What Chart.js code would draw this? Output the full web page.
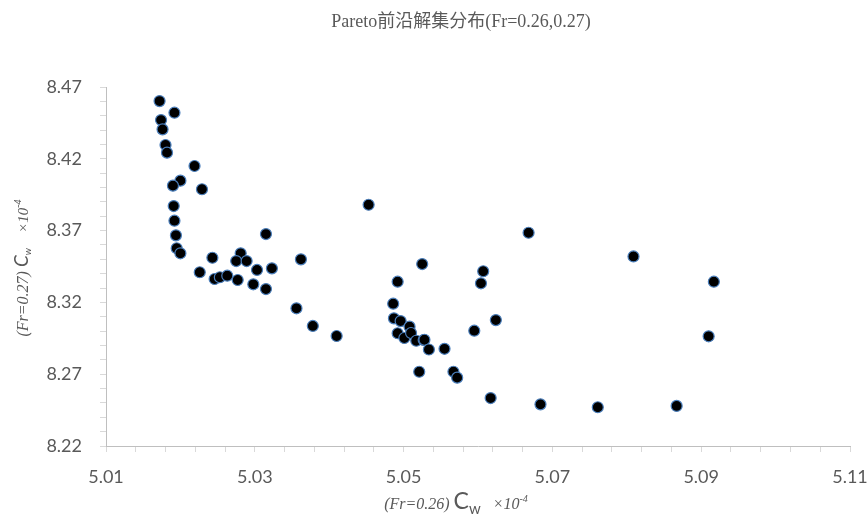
<!DOCTYPE html>
<html>
<head>
<meta charset="utf-8">
<script src="https://cdn.jsdelivr.net/npm/chart.js@4.4.0/dist/chart.umd.min.js"></script>
<style>
  html, body { margin: 0; padding: 0; background: #fff; }
  #wrap { width: 867px; height: 515px; }
</style>
</head>
<body>
<div id="wrap"><canvas id="paretoChart" width="867" height="515"></canvas></div>
<script>
const chartTitle = "Pareto前沿解集分布(Fr=0.26,0.27)";

// Cw (Fr=0.26), x10^-4
const xValues = [
  5.0172, 5.0192, 5.0174, 5.0176, 5.0180, 5.0182, 5.0219, 5.0200, 5.0190, 5.0229,
  5.0191, 5.0192, 5.0194, 5.0195, 5.0200, 5.0315, 5.0243, 5.0281, 5.0275, 5.0289,
  5.0303, 5.0323, 5.0362, 5.0226, 5.0246, 5.0253, 5.0263, 5.0277, 5.0298, 5.0315,
  5.0356, 5.0378, 5.0410, 5.0453, 5.0525, 5.0492, 5.0486, 5.0487, 5.0496, 5.0508,
  5.0492, 5.0501, 5.0510, 5.0517, 5.0527, 5.0528, 5.0534, 5.0555, 5.0521, 5.0567,
  5.0572, 5.0595, 5.0607, 5.0604, 5.0624, 5.0617, 5.0684, 5.0761, 5.0867, 5.0668,
  5.0809, 5.0917, 5.0910
];
// Cw (Fr=0.27), x10^-4
const yValues = [
  8.4602, 8.4521, 8.4470, 8.4405, 8.4296, 8.4243, 8.4150, 8.4048, 8.4013, 8.3988,
  8.3871, 8.3769, 8.3667, 8.3577, 8.3542, 8.3676, 8.3511, 8.3542, 8.3488, 8.3488,
  8.3426, 8.3437, 8.3500, 8.3410, 8.3363, 8.3375, 8.3386, 8.3356, 8.3326, 8.3293,
  8.3159, 8.3036, 8.2966, 8.3880, 8.3467, 8.3344, 8.3191, 8.3089, 8.3070, 8.3031,
  8.2985, 8.2952, 8.2987, 8.2933, 8.2938, 8.2940, 8.2872, 8.2877, 8.2717, 8.2717,
  8.2676, 8.3003, 8.3417, 8.3333, 8.3077, 8.2534, 8.2490, 8.2470, 8.2479, 8.3685,
  8.3520, 8.3344, 8.2964
];

const xTicks = ["5.01", "5.03", "5.05", "5.07", "5.09", "5.11"];
const yTicks = ["8.22", "8.27", "8.32", "8.37", "8.42", "8.47"];

var points = [];
for (var i = 0; i < xValues.length; i++) {
  points.push({ x: xValues[i], y: yValues[i] });
}

// axis titles need sub/superscripts, so draw them piece by piece
const xTitleParts = [
  { text: "(Fr=0.26) ", font: "italic 16px 'Liberation Serif', serif", dy: 0 },
  { text: "C", font: "23px 'Lato', sans-serif", dy: 0 },
  { text: "w", font: "15px 'Lato', sans-serif", dy: 5 },
  { text: "   ×10", font: "italic 16px 'Liberation Serif', serif", dy: 0 },
  { text: "-4", font: "italic 10px 'Liberation Serif', serif", dy: -7 }
];
const yTitleParts = [
  { text: "(Fr=0.27) ", font: "italic 16px 'Liberation Serif', serif", dy: 0 },
  { text: "C", font: "italic 19px 'Lato', sans-serif", dy: 0 },
  { text: "w", font: "italic 10px 'Lato', sans-serif", dy: 3 },
  { text: "    ×10", font: "italic 15px 'Liberation Serif', serif", dy: 0 },
  { text: "-4", font: "italic 10px 'Liberation Serif', serif", dy: -7 }
];

function drawParts(c, parts, cx, cy, angle) {
  var total = 0;
  parts.forEach(function (p) { c.font = p.font; total += c.measureText(p.text).width; });
  c.save();
  c.translate(cx, cy);
  c.rotate(angle);
  c.textAlign = "left";
  c.textBaseline = "alphabetic";
  var x = -total / 2;
  parts.forEach(function (p) {
    c.font = p.font;
    c.fillText(p.text, x, 6 + p.dy);
    x += c.measureText(p.text).width;
  });
  c.restore();
}

const textPlugin = {
  id: "textPlugin",
  afterDraw: function (chart) {
    var c = chart.ctx;
    c.save();
    c.fillStyle = "#595959";
    c.textAlign = "center";
    c.textBaseline = "middle";
    c.font = "18px 'Liberation Serif', 'Noto Sans CJK SC', serif";
    c.fillText(chartTitle, 461, 22);
    drawParts(c, xTitleParts, 456, 503, 0);
    drawParts(c, yTitleParts, 22, 268, -Math.PI / 2);
    c.restore();
  }
};

var ctx = document.getElementById("paretoChart").getContext("2d");
var scatter = new Chart(ctx, {
  type: "scatter",
  data: {
    datasets: [{
      label: "Pareto",
      data: points,
      pointRadius: 5.5,
      pointHoverRadius: 5.5,
      backgroundColor: "#000000",
      borderColor: "#4a7ebb",
      borderWidth: 1.2
    }]
  },
  options: {
    responsive: false,
    animation: false,
    devicePixelRatio: 1,
    layout: { padding: { top: 87, right: 17, bottom: 0, left: 0 } },
    plugins: {
      legend: { display: false },
      tooltip: { enabled: false },
      title: { display: false }
    },
    scales: {
      x: {
        type: "linear",
        min: 5.01,
        max: 5.11,
        afterFit: function (s) { s.height = 69; s.paddingRight = 17; },
        grid: { drawOnChartArea: false, drawTicks: true, tickLength: 6, color: "#d9d9d9" },
        border: { color: "#bfbfbf", width: 1 },
        ticks: {
          stepSize: 0.004,
          autoSkip: false,
          maxRotation: 0,
          padding: 14,
          color: "#595959",
          font: { family: "Lato", size: 18 },
          callback: function (v, idx) { return idx % 5 === 0 ? xTicks[idx / 5] : ""; }
        }
      },
      y: {
        type: "linear",
        min: 8.22,
        max: 8.47,
        afterFit: function (s) { s.width = 106; },
        grid: { drawOnChartArea: false, drawTicks: true, tickLength: 6, color: "#d9d9d9" },
        border: { color: "#bfbfbf", width: 1 },
        ticks: {
          stepSize: 0.01,
          autoSkip: false,
          padding: 18,
          color: "#595959",
          font: { family: "Lato", size: 18 },
          callback: function (v, idx) { return idx % 5 === 0 ? yTicks[idx / 5] : ""; }
        }
      }
    }
  },
  plugins: [textPlugin]
});
</script>
</body>
</html>
